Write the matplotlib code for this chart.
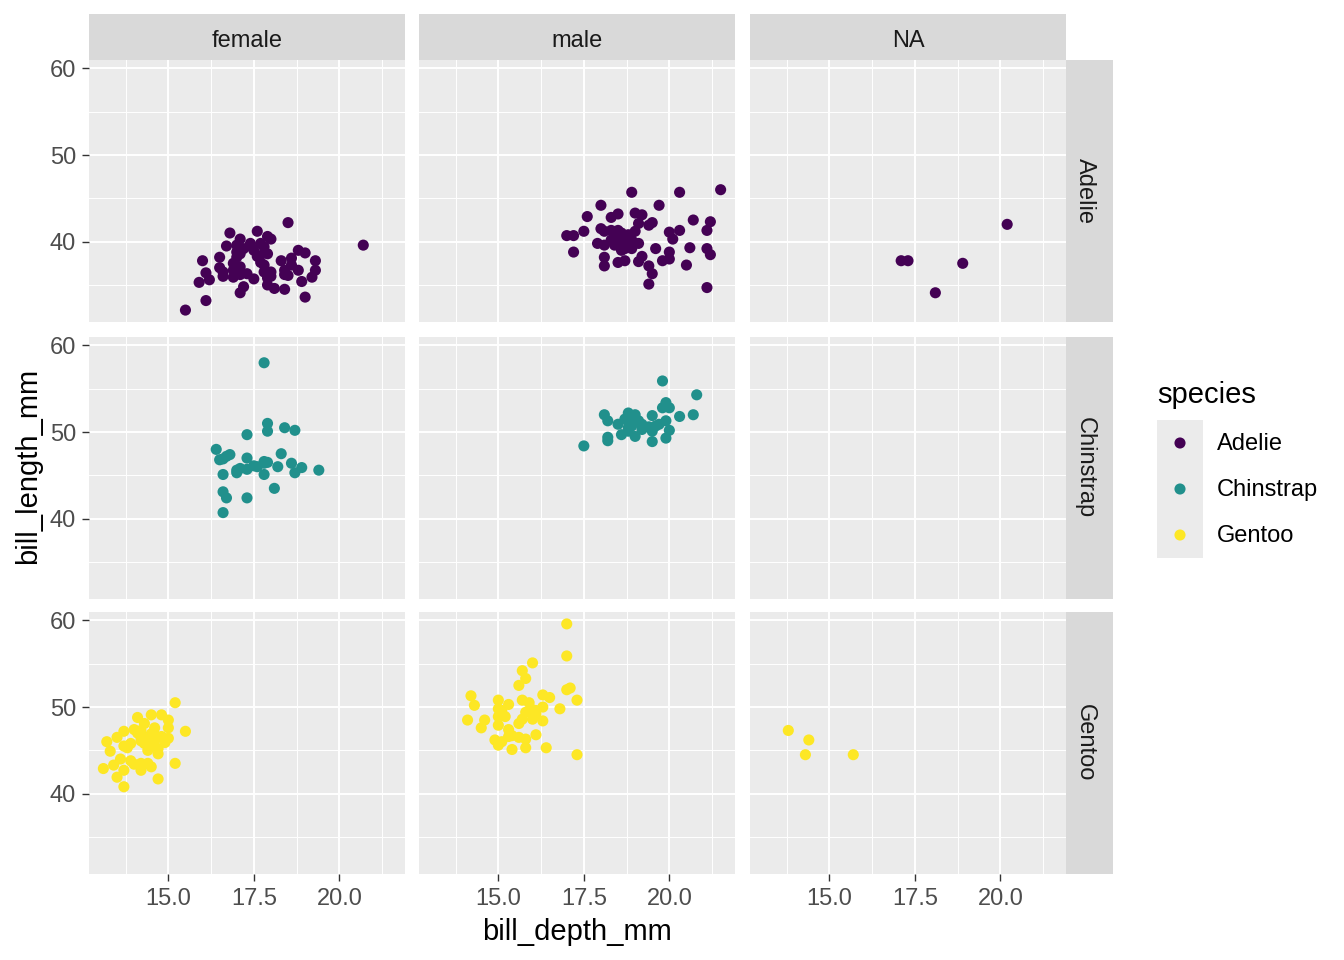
import matplotlib
matplotlib.use("Agg")
import matplotlib.pyplot as plt

plt.rcParams['font.family'] = ['Liberation Sans', 'DejaVu Sans']

# facet levels
species = ["Adelie", "Chinstrap", "Gentoo"]
sexes = ["female", "male", "NA"]
colors = ["#440154", "#21908C", "#FDE725"]

# values (bill_depth_mm, bill_length_mm)
adelie_female_depth = [18.5, 20.7, 15.5, 16.1, 15.9, 16.0, 16.1, 16.2, 16.5, 16.5, 16.6, 16.6,
                       16.7, 16.8, 17.1, 17.0, 17.0, 17.1, 16.9, 17.0, 16.9, 17.1, 17.3, 17.2,
                       17.1, 17.4, 17.5, 17.6, 17.7, 17.8, 17.6, 17.9, 18.0, 17.9, 17.8, 17.8,
                       18.0, 17.9, 17.9, 18.1, 18.4, 18.3, 18.6, 18.8, 19.0, 18.4, 18.6, 18.5,
                       18.8, 18.9, 19.0, 19.3, 19.3, 19.2, 17.2, 17.5, 16.9, 17.1, 17.7, 18.0,
                       18.4, 17.8, 17.4, 17.0]
adelie_female_length = [42.2, 39.6, 32.1, 33.2, 35.3, 37.8, 36.4, 35.6, 38.2, 37.0, 36.5, 36.0,
                        39.5, 41.0, 40.3, 39.6, 38.8, 38.6, 37.5, 36.7, 35.9, 36.2, 36.3, 34.8,
                        34.1, 39.5, 35.7, 41.2, 39.8, 39.4, 38.3, 40.6, 40.3, 38.6, 37.3, 36.5,
                        36.5, 35.8, 35.0, 34.6, 34.5, 37.8, 38.1, 39.0, 38.7, 36.7, 37.3, 36.1,
                        36.7, 35.4, 33.6, 37.8, 36.7, 35.9, 39.2, 39.0, 36.7, 37.1, 37.6, 36.0,
                        36.2, 38.7, 39.8, 38.2]

adelie_male_depth = [18.9, 20.3, 21.5, 18.0, 19.7, 17.6, 18.3, 18.5, 19.0, 19.2, 19.1, 19.4,
                     19.5, 20.7, 21.2, 21.1, 17.0, 17.2, 17.5, 18.0, 18.1, 18.3, 18.5, 18.5,
                     18.6, 18.8, 19.0, 18.9, 18.7, 18.5, 18.4, 17.9, 18.1, 18.6, 18.7, 19.1,
                     20.0, 20.1, 20.3, 17.2, 18.1, 18.1, 18.5, 18.7, 19.1, 19.2, 19.4, 19.5,
                     19.4, 19.6, 19.8, 20.0, 20.0, 20.5, 20.6, 21.1, 21.2, 21.1, 18.3, 18.9]
adelie_male_length = [45.7, 45.7, 46.0, 44.2, 44.2, 42.9, 42.8, 43.2, 43.3, 43.1, 42.1, 41.9,
                      42.2, 42.5, 42.3, 41.3, 40.7, 40.7, 41.2, 41.5, 41.2, 41.3, 41.3, 40.6,
                      41.0, 40.8, 41.2, 40.2, 40.0, 40.0, 39.6, 39.8, 39.6, 39.0, 39.2, 39.8,
                      41.1, 40.3, 41.3, 38.8, 38.2, 37.2, 37.6, 37.8, 37.7, 38.3, 37.2, 36.3,
                      35.1, 39.2, 37.8, 38.8, 38.0, 37.3, 39.3, 39.2, 38.5, 34.7, 40.2, 39.2]

adelie_na_depth = [20.2, 17.1, 17.3, 18.9, 18.1]
adelie_na_length = [42.0, 37.8, 37.8, 37.5, 34.1]

chinstrap_female_depth = [17.8, 17.9, 17.9, 18.4, 18.7, 17.3, 16.4, 16.8, 16.7, 16.5, 17.3, 16.6,
                          18.3, 17.8, 17.9, 17.5, 18.2, 18.6, 18.9, 18.7, 19.4, 17.0, 17.1, 17.3,
                          17.0, 16.6, 17.8, 18.1, 16.6, 16.7, 17.3, 16.6, 17.8, 17.6]
chinstrap_female_length = [58.0, 51.0, 50.1, 50.5, 50.2, 49.7, 48.0, 47.4, 47.2, 46.8, 47.0, 46.9,
                           47.5, 46.6, 46.5, 46.1, 46.0, 46.4, 45.9, 45.3, 45.6, 45.6, 45.8, 45.7,
                           45.3, 45.1, 45.1, 43.5, 43.1, 42.4, 42.4, 40.7, 46.4, 46.0]

chinstrap_male_depth = [19.8, 20.8, 19.9, 19.8, 20.0, 18.1, 18.2, 18.8, 19.0, 19.5, 20.3, 20.7,
                        18.5, 18.7, 18.9, 19.1, 19.2, 18.9, 18.8, 19.4, 19.6, 19.9, 19.7, 19.5,
                        20.0, 18.6, 19.0, 18.2, 18.2, 19.5, 19.9, 17.5, 18.8, 19.2]
chinstrap_male_length = [55.9, 54.3, 53.4, 52.8, 52.8, 52.0, 51.3, 52.2, 52.0, 51.9, 51.8, 52.0,
                         50.9, 51.5, 51.1, 51.3, 50.9, 50.7, 50.5, 50.6, 50.7, 51.3, 50.9, 50.1,
                         50.2, 49.7, 49.5, 49.4, 49.0, 48.9, 49.3, 48.4, 50.1, 50.3]

gentoo_female_depth = [15.2, 15.5, 14.1, 14.5, 14.8, 15.0, 14.3, 14.0, 13.7, 13.5, 13.2, 13.3,
                       13.7, 13.8, 13.9, 14.2, 14.2, 14.3, 14.5, 14.6, 14.4, 14.6, 14.8, 15.0,
                       14.7, 14.7, 15.0, 13.6, 13.4, 13.1, 13.7, 13.5, 13.7, 13.9, 14.0, 14.2,
                       14.2, 14.4, 14.5, 14.7, 15.2, 14.4, 14.2, 14.5, 14.9, 14.1, 14.6, 14.3]
gentoo_female_length = [50.5, 47.2, 48.8, 49.1, 49.1, 48.5, 48.1, 47.4, 47.2, 46.5, 46.0, 44.9,
                        45.5, 45.3, 45.8, 47.3, 46.1, 46.5, 46.9, 47.6, 45.7, 46.1, 46.6, 46.4,
                        45.2, 44.6, 47.6, 44.0, 43.3, 42.9, 42.7, 41.9, 40.8, 43.8, 43.4, 43.5,
                        42.7, 43.5, 43.1, 41.7, 43.5, 45.0, 46.5, 45.5, 45.9, 47.0, 46.8, 45.8]

gentoo_male_depth = [17.0, 17.0, 16.0, 15.7, 15.8, 15.6, 17.0, 17.1, 17.3, 16.8, 14.2, 14.3,
                     14.1, 14.6, 14.5, 15.0, 15.0, 15.3, 15.1, 15.0, 15.2, 15.0, 15.3, 15.3,
                     14.9, 15.0, 15.1, 15.4, 15.4, 15.6, 15.8, 15.8, 16.1, 16.4, 17.3, 15.7,
                     15.9, 16.3, 16.5, 16.3, 16.1, 16.0, 15.8, 15.7, 15.6, 16.0, 16.3, 16.1]
gentoo_male_length = [59.6, 55.9, 55.1, 54.2, 53.3, 52.5, 52.0, 52.2, 50.8, 49.8, 51.3, 50.2,
                      48.5, 48.5, 47.6, 50.8, 49.8, 50.3, 49.6, 48.9, 48.9, 47.9, 47.4, 46.6,
                      46.2, 45.6, 46.0, 45.1, 46.7, 46.5, 46.3, 45.3, 46.8, 45.3, 44.5, 50.8,
                      50.5, 51.4, 51.1, 50.0, 49.6, 49.7, 49.4, 48.6, 48.1, 48.6, 48.4, 49.2]

gentoo_na_depth = [13.8, 14.4, 14.3, 15.7]
gentoo_na_length = [47.3, 46.2, 44.5, 44.5]

chinstrap_na_depth = []
chinstrap_na_length = []

panel_data = {
    ("Adelie", "female"): (adelie_female_depth, adelie_female_length),
    ("Adelie", "male"): (adelie_male_depth, adelie_male_length),
    ("Adelie", "NA"): (adelie_na_depth, adelie_na_length),
    ("Chinstrap", "female"): (chinstrap_female_depth, chinstrap_female_length),
    ("Chinstrap", "male"): (chinstrap_male_depth, chinstrap_male_length),
    ("Chinstrap", "NA"): (chinstrap_na_depth, chinstrap_na_length),
    ("Gentoo", "female"): (gentoo_female_depth, gentoo_female_length),
    ("Gentoo", "male"): (gentoo_male_depth, gentoo_male_length),
    ("Gentoo", "NA"): (gentoo_na_depth, gentoo_na_length),
}

x_breaks = [15.0, 17.5, 20.0]
x_minor = [13.75, 16.25, 18.75, 21.25]
y_breaks = [40, 50, 60]
y_minor = [35, 45, 55]

W, H = 1344, 960
fig = plt.figure(figsize=(W / 100, H / 100), dpi=100)
fig.patch.set_facecolor("white")


def frac(x0, y0, w, h):
    return [x0 / W, 1 - (y0 + h) / H, w / W, h / H]


col_x = [89, 419, 750]
row_y = [60, 337, 612]
pw, ph = 316, 262

for i, sp in enumerate(species):
    for j, sx in enumerate(sexes):
        ax = fig.add_axes(frac(col_x[j], row_y[i], pw, ph))
        ax.set_facecolor("#EBEBEB")
        for s in ax.spines.values():
            s.set_visible(False)
        ax.set_xlim(12.68, 21.92)
        ax.set_ylim(30.725, 60.975)
        ax.set_xticks(x_breaks)
        ax.set_xticks(x_minor, minor=True)
        ax.set_yticks(y_breaks)
        ax.set_yticks(y_minor, minor=True)
        ax.grid(which="major", color="white", lw=1.4)
        ax.grid(which="minor", color="white", lw=0.7)
        ax.set_axisbelow(True)
        ax.tick_params(which="minor", length=0)
        ax.tick_params(which="major", length=5.3, width=1.0, color="#333333",
                       labelsize=17, labelcolor="#4D4D4D")
        ax.tick_params(axis="x", pad=5)
        ax.tick_params(axis="y", pad=4)
        ax.set_xticklabels([f"{v:.1f}" for v in x_breaks])
        ax.set_yticklabels([str(v) for v in y_breaks])
        if j > 0:
            ax.tick_params(axis="y", left=False, labelleft=False)
        if i < 2:
            ax.tick_params(axis="x", bottom=False, labelbottom=False)
        d, l = panel_data[(sp, sx)]
        if len(d):
            ax.scatter(d, l, s=64, c=colors[i], edgecolors="none", zorder=3)

# top strips
for j, sx in enumerate(sexes):
    sa = fig.add_axes(frac(col_x[j], 14, pw, 46))
    sa.set_facecolor("#D9D9D9")
    sa.set_xticks([]); sa.set_yticks([])
    for s in sa.spines.values():
        s.set_visible(False)
    sa.text(0.5, 0.42, sx, ha="center", va="center", fontsize=17, color="#1A1A1A",
            transform=sa.transAxes)

# right strips
for i, sp in enumerate(species):
    sa = fig.add_axes(frac(1066, row_y[i], 47, ph))
    sa.set_facecolor("#D9D9D9")
    sa.set_xticks([]); sa.set_yticks([])
    for s in sa.spines.values():
        s.set_visible(False)
    sa.text(0.4, 0.5, sp, ha="center", va="center", fontsize=17, color="#1A1A1A",
            rotation=-90, transform=sa.transAxes)

# axis titles
fig.text(577 / W, 1 - 932 / H, "bill_depth_mm", ha="center", va="center", fontsize=21)
fig.text(28 / W, 1 - 466 / H, "bill_length_mm", ha="center", va="center", fontsize=21,
         rotation=90)

# legend
fig.text(1157 / W, 1 - 395 / H, "species", ha="left", va="center", fontsize=21)
la = fig.add_axes(frac(1157, 420, 46, 138))
la.set_facecolor("#EBEBEB")
la.set_xticks([]); la.set_yticks([])
for s in la.spines.values():
    s.set_visible(False)
la.set_xlim(0, 1)
la.set_ylim(len(species), 0)
for k, sp in enumerate(species):
    la.scatter([0.5], [k + 0.5], s=64, c=colors[k], edgecolors="none")
    fig.text(1217 / W, 1 - (421 + 46 * (k + 0.5)) / H, sp, ha="left", va="center",
             fontsize=17)

fig.savefig("out.png", dpi=100)
